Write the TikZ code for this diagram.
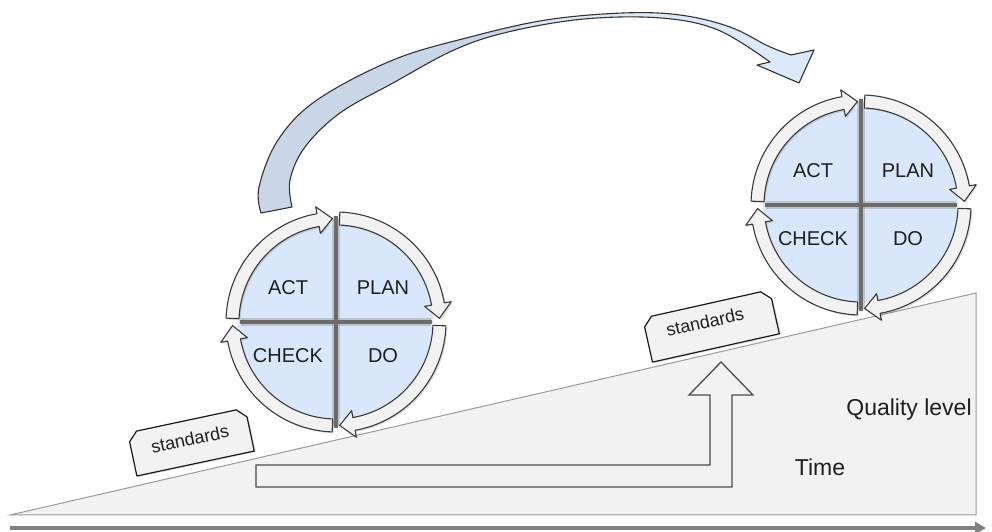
\documentclass[tikz,border=0pt]{standalone}
\usepackage{fontspec}
\setmainfont{Liberation Sans}
\usetikzlibrary{arrows.meta,calc}
\definecolor{pdblue}{HTML}{D8E7FB}
\definecolor{ringfill}{HTML}{F2F2F2}
\definecolor{ringline}{HTML}{3A3A3A}
\definecolor{rampfill}{HTML}{F2F2F2}
\definecolor{rampline}{HTML}{9A9A9A}
\definecolor{bigdark}{HTML}{C8D6E7}
\definecolor{biglight}{HTML}{DCE9FA}
\definecolor{txt}{HTML}{1F1F1F}
\pgfdeclareradialshading{diskshade}{\pgfpoint{0bp}{0bp}}{color(0bp)=(pdblue); color(41bp)=(pdblue); color(47bp)=(pdblue!75!white); color(50bp)=(pdblue!50!white)}
\tikzset{
  ringstyle/.style={fill=ringfill, draw=ringline, line width=1.1pt, line join=round},
  ringshadow/.style={fill=black, opacity=0.12, draw=none},
  ramp/.style={fill=rampfill, draw=rampline, line width=1pt},
  timearrow/.style={draw=black!50, line width=4pt, -{Triangle[length=11pt,width=12pt]}},
  larrow/.style={fill=rampfill, draw=black!70, line width=1.3pt, line join=miter},
  stdbox/.style={fill=ringfill, draw=black!90, line width=1.2pt, line join=round},
  pdtext/.style={font=\fontsize{20}{24}\selectfont, text=txt, inner sep=0pt},
  stdtext/.style={font=\fontsize{18}{21}\selectfont, text=txt, inner sep=0pt},
  bigtext/.style={font=\fontsize{23}{27}\selectfont, text=txt, inner sep=0pt},
  divline/.style={draw=black!58, line width=3.4pt},
  divhalo/.style={draw=black!35, line width=8pt, opacity=0.55},
}
% ring arrow outline: #1 centre, #2 tail angle, #3 tip angle (clockwise)
\newcommand{\pdcaringpath}[3]{([shift={(#1)}]#2:110) arc[start angle=#2, end angle=#3+8, radius=110]
    -- ([shift={(#1)}]#3+8:117) -- ([shift={(#1)}]#3:103.5) -- ([shift={(#1)}]#3+8:90)
    -- ([shift={(#1)}]#3+8:97) arc[start angle=#3+8, end angle=#2, radius=97] -- cycle}
\newcommand{\pdcaringarrow}[3]{%
  \fill[ringshadow, shift={(1.5,-1.5)}] \pdcaringpath{#1}{#2}{#3};
  \draw[ringstyle] \pdcaringpath{#1}{#2}{#3};}
\newcommand{\pdcawheel}[2]{% #1 centre name, #2 prefix
  \shade[shading=diskshade] (#1) circle[radius=97.5];
  \draw[divhalo] ([shift={(#1)}]-95,0) -- ([shift={(#1)}]95,0);
  \draw[divhalo] ([shift={(#1)}]0,-104) -- ([shift={(#1)}]0,104);
  \draw[divline] ([shift={(#1)}]-96,0) -- ([shift={(#1)}]96,0);
  \draw[divline] ([shift={(#1)}]0,-106) -- ([shift={(#1)}]0,106);
  \pdcaringarrow{#1}{178}{92}
  \pdcaringarrow{#1}{88}{2}
  \pdcaringarrow{#1}{-2}{-88}
  \pdcaringarrow{#1}{-92}{-178}
  \node[pdtext] (#2act) at ([shift={(#1)}]-48,34) {ACT};
  \node[pdtext] (#2plan) at ([shift={(#1)}]47,34) {PLAN};
  \node[pdtext] (#2check) at ([shift={(#1)}]-48,-34) {CHECK};
  \node[pdtext] (#2do) at ([shift={(#1)}]47,-34) {DO};
}
\newcommand{\stdshape}[5]{% centre x, y, width, height, rotation
  \begin{scope}[shift={(#1,#2)}, rotate=#5]
    \fill[black, opacity=0.1] (-#3/2+1.5,-#4/2-1.5) -- (#3/2+1.5,-#4/2-1.5) -- (#3/2+1.5,#4/2-10.5) -- (#3/2-7.5,#4/2-1.5)
      -- (-#3/2+10.5,#4/2-1.5) -- (-#3/2+1.5,#4/2-10.5) -- cycle;
    \draw[stdbox] (-#3/2,-#4/2) -- (#3/2,-#4/2) -- (#3/2,#4/2-9) -- (#3/2-9,#4/2)
      -- (-#3/2+9,#4/2) -- (-#3/2,#4/2-9) -- cycle;
  \end{scope}}
\begin{document}
\begin{tikzpicture}[x=1pt,y=1pt]
\useasboundingbox (0,0) rectangle (992,532);
% ramp
\draw[ramp] (10,17) -- (976,239) -- (976,17) -- cycle;
% time axis
\coordinate (t0) at (10,4);
\coordinate (t1) at (986,4);
\draw[timearrow] (t0) -- (t1);
% L-shaped arrow
\draw[larrow] (256,67) -- (710,67) -- (710,137) -- (689,137) -- (721,170) -- (753,137)
  -- (732,137) -- (732,45) -- (256,45) -- cycle;
% standards boxes
\stdshape{191}{90}{120}{44}{12}
\node[stdtext, rotate=12] (std1) at (190,93) {standards};
\stdshape{711}{206}{130}{45}{12.6}
\node[stdtext, rotate=12.6] (std2) at (705,210) {standards};
% big curved arrow
\def\bigarrowpath{plot[smooth, tension=0.6] coordinates {(261,319) (259,345) (278,392) (317,432) (393,472) (470,495) (546,512) (623,519) (680,517) (730,505) (768,486) (791,477)}
  -- (814,482) -- (799,449) -- (757,467) -- (770,470)
  -- plot[smooth, tension=0.6] coordinates {(770,470) (718,502) (661,514) (584,513) (508,500) (454,482) (393,449) (340,419) (305,385) (290,352) (292,325)} -- cycle}
\fill[biglight] \bigarrowpath;
\begin{scope}
  \clip (0,300) rectangle (520,532);
  \fill[bigdark] \bigarrowpath;
\end{scope}
\draw[draw=black!80, line width=1.1pt, line join=round] \bigarrowpath;
% wheels
\coordinate (w1) at (336,210);
\coordinate (w2) at (861,327);
\pdcawheel{w1}{a}
\pdcawheel{w2}{b}
% labels
\node[bigtext] (ql) at (909,122) {Quality level};
\node[bigtext] (time) at (820,65) {Time};
\end{tikzpicture}
\end{document}
